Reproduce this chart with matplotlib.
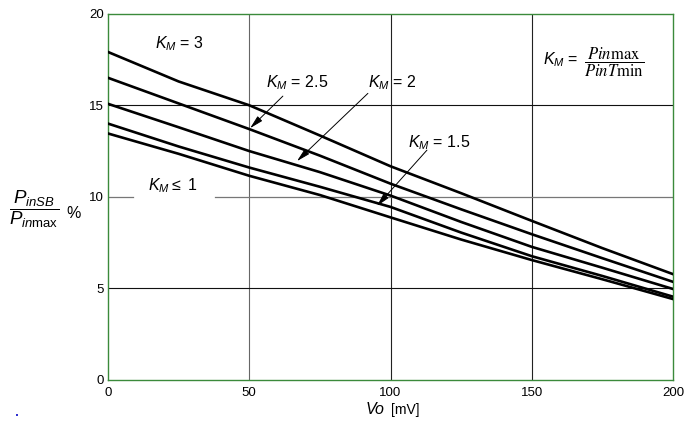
import numpy as np
from matplotlib import pyplot as plt
from matplotlib.patches import Rectangle

plt.rcParams["font.family"] = ["Liberation Sans", "DejaVu Sans"]
plt.rcParams["mathtext.fontset"] = "custom"
plt.rcParams["mathtext.rm"] = "Liberation Sans"
plt.rcParams["mathtext.it"] = "Liberation Sans:italic"

# data
vo = [0, 25, 50, 75, 100, 125, 150, 175, 200]
km_3 = [17.91, 16.3, 15.0, 13.35, 11.67, 10.2, 8.69, 7.2, 5.78]
km_25 = [16.5, 15.1, 13.7, 12.25, 10.72, 9.32, 7.96, 6.65, 5.36]
km_2 = [15.08, 13.8, 12.5, 11.35, 10.07, 8.63, 7.27, 6.13, 4.97]
km_15 = [14.0, 12.75, 11.6, 10.55, 9.45, 8.05, 6.76, 5.68, 4.55]
km_1 = [13.46, 12.35, 11.15, 10.1, 8.88, 7.67, 6.55, 5.5, 4.42]
curves = [km_3, km_25, km_2, km_15, km_1]

x_ticks = [0, 50, 100, 150, 200]
y_ticks = [0, 5, 10, 15, 20]

frame_color = "#3b8a3b"

fig = plt.figure(figsize=(6.95, 4.28), dpi=100)
ax = fig.add_axes([108 / 695, 1 - 380 / 428, 565 / 695, 366.3 / 428])
ax.set_xlim(0, 200)
ax.set_ylim(0, 20)

# grid, drawn by hand because the 10 line is broken round a label
for xv in x_ticks[1:-1]:
    c = "#666666" if xv == 50 else "#222222"
    ax.axvline(xv, color=c, lw=0.8, zorder=1)
for yv in y_ticks[1:-1]:
    if yv == 10:
        ax.plot([0, 8.8], [10, 10], color="#777777", lw=0.9, zorder=1)
        ax.plot([37.9, 200], [10, 10], color="#777777", lw=0.9, zorder=1)
    else:
        ax.axhline(yv, color="#111111", lw=0.8, zorder=1)

for ys in curves:
    ax.plot(vo, ys, color="black", lw=1.9, zorder=3, solid_joinstyle="round")

ax.set_xticks(x_ticks)
ax.set_yticks(y_ticks)
ax.tick_params(axis="x", length=0, pad=5, labelsize=9.5)
ax.tick_params(axis="y", length=0, pad=3, labelsize=9.5)
for s in ax.spines.values():
    s.set_color(frame_color)
    s.set_linewidth(1.0)

# curve labels
lab = dict(fontsize=11.5, va="baseline", ha="left", math_fontfamily="custom")
ax.text(16.6, 18.1, r"$K_M$ = 3", **lab)
ax.text(56.1, 15.98, r"$K_M$ = 2.5", **lab)
ax.text(92.0, 15.98, r"$K_M$ = 2", **lab)
ax.text(106.2, 12.72, r"$K_M$ = 1.5", **lab)
ax.text(14.2, 10.37, r"$K_M \leq$ 1", **lab)

arrow = dict(arrowstyle="-|>,head_length=0.9,head_width=0.22", color="black",
             lw=0.7, shrinkA=0, shrinkB=0, mutation_scale=9)
ax.annotate("", xy=(50.3, 13.75), xytext=(61.9, 15.5), arrowprops=arrow)
ax.annotate("", xy=(66.9, 11.95), xytext=(92.0, 15.65), arrowprops=arrow)
ax.annotate("", xy=(95.2, 9.5), xytext=(112.9, 12.55), arrowprops=arrow)

# definition of K_M, top right
ax.text(154.0, 17.24, r"$K_M$ =", **lab)
ax.text(168.5, 17.35, r"$\dfrac{Pin\mathrm{max}}{PinT\mathrm{min}}$",
        fontsize=12, ha="left", va="center", math_fontfamily="stix")

# y label
fig.text(9 / 695, 1 - 209 / 428, r"$\dfrac{P_{inSB}}{P_{in\mathrm{max}}}$",
         fontsize=13.5, ha="left", va="center", math_fontfamily="custom")
fig.text(66 / 695, 1 - 213 / 428, "%", fontsize=11.5, ha="left", va="center")

# x label
fig.text(366 / 695, 1 - 410 / 428, "Vo", fontsize=11.5, style="italic",
         ha="left", va="center")
fig.text(391 / 695, 1 - 410 / 428, "[mV]", fontsize=10, ha="left", va="center")

# stray blue dot at the bottom left of the original
fig.add_artist(Rectangle((16 / 695, 1 - 416 / 428), 2 / 695, 2 / 428,
                         transform=fig.transFigure, color="#3030d0", lw=0))

plt.savefig("out.png", dpi=100)
